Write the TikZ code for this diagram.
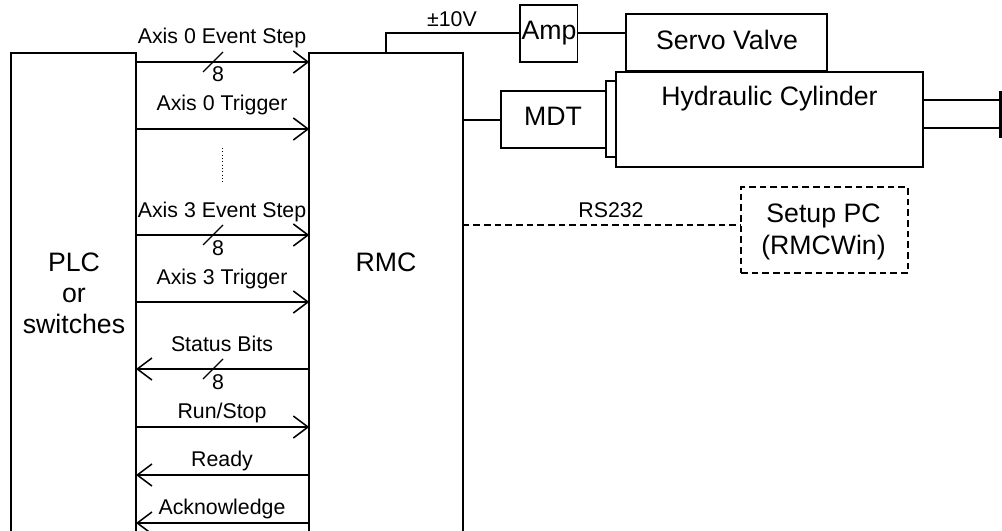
\documentclass[tikz,border=0pt]{standalone}
\usepackage{fontspec}
\setmainfont{Liberation Sans}
\usetikzlibrary{arrows.meta}
\tikzset{
  x=0.75pt,y=-0.75pt,
  wire/.style={line width=1.15pt,black},
  bx/.style 2 args={draw=black,line width=1.15pt,fill=white,inner sep=0pt,outer sep=0pt,minimum width=#1*0.75pt,minimum height=#2*0.75pt},
  sig/.style={wire,-{Straight Barb[length=11pt,width=16.5pt,line width=1.15pt]}},
  slash/.style={line width=1pt},
  big/.style={inner sep=0pt,anchor=base,font=\fontsize{20}{20}\selectfont},
  small/.style={inner sep=0pt,anchor=base,font=\fontsize{16}{16}\selectfont},
  rsdash/.style={dash pattern=on 5pt off 3pt},
}
\newcommand{\sigline}[3]{% name, y, direction (-1 = reversed)
  \coordinate (#1) at (0,#2);
  \ifnum#3=1
    \draw[sig] (plc.east |- #1) -- (rmc.west |- #1);
  \else
    \draw[sig] (rmc.west |- #1) -- (plc.east |- #1);
  \fi}
\newcommand{\busmark}[2]{% name, y
  \coordinate (#1a) at (203,#2+10);
  \coordinate (#1b) at (223,#2-10);
  \draw[slash] (#1a) -- (#1b);
  \node[small] (#1n) at (218,#2+20) {8};}
\begin{document}
\begin{tikzpicture}
\path[use as bounding box,clip] (0,0) rectangle (1002,531);
% main boxes (run past the bottom edge)
\node[bx={125}{527}] (plc) at (73.5,316.5) {};
\node[bx={153.5}{527}] (rmc) at (386,316.5) {};
\node[big] (plct) at (74,271) {PLC};
\node[big] (ort) at (74,302) {or};
\node[big] (swt) at (74,333) {switches};
\node[big] (rmct) at (386,271) {RMC};
% signals
\sigline{s1}{62}{1}
\sigline{s2}{129}{1}
\sigline{s3}{235}{1}
\sigline{s4}{302}{1}
\sigline{s5}{369}{-1}
\sigline{s6}{427}{1}
\sigline{s7}{475}{-1}
\sigline{s8}{523}{-1}
\busmark{m1}{62}
\busmark{m3}{235}
\busmark{m5}{369}
\node[small] (l1) at (222,44) {Axis 0 Event Step};
\node[small] (l2) at (222,111) {Axis 0 Trigger};
\node[small] (l3) at (222,217) {Axis 3 Event Step};
\node[small] (l4) at (222,284) {Axis 3 Trigger};
\node[small] (l5) at (222,351) {Status Bits};
\node[small] (l6) at (222,418) {Run/Stop};
\node[small] (l7) at (222,466) {Ready};
\node[small] (l8) at (222,514) {Acknowledge};
\coordinate (d1) at (222.5,148);
\coordinate (d2) at (222.5,184);
\draw[line width=0.5pt,dotted] (d1) -- (d2);
% right-hand side
\node[bx={57.5}{57}] (amp) at (548.75,33.5) {};
\node[bx={201.5}{57}] (valve) at (726.5,42.5) {};
\node[bx={10}{76}] (flange) at (611,119) {};
\node[bx={105}{57}] (mdt) at (553.5,119.5) {};
\node[bx={307}{95}] (cyl) at (769.5,119.5) {};
\coordinate (rmctap) at (386,53);
\coordinate (corner) at (386,33);
\coordinate (mdtwire) at (0,120);
\draw[wire] (rmctap) -- (corner) -- (amp.west |- corner);
\draw[wire] (amp.east |- corner) -- (valve.west |- corner);
\draw[wire] (rmc.east |- mdtwire) -- (mdt.west |- mdtwire);
\node[small] (volt) at (452,27) {±10V};
\node[big] (ampt) at (549,40) {Amp};
\node[big] (valvet) at (727,49.5) {Servo Valve};
\node[big] (cylt) at (769.5,106) {Hydraulic Cylinder};
\node[big] (mdtt) at (553,125.5) {MDT};
% rod and end plate
\coordinate (rt) at (0,100);
\coordinate (rb) at (0,128);
\node[fill=black,inner sep=0pt,outer sep=0pt,minimum width=2.4pt,minimum height=35.5pt] (plate) at (1000.5,114.5) {};
\draw[wire] (cyl.east |- rt) -- (plate.west |- rt);
\draw[wire] (cyl.east |- rb) -- (plate.west |- rb);
% setup PC
\node[bx={167}{86},rsdash] (pc) at (824.5,230) {};
\coordinate (rs) at (0,225);
\draw[wire,rsdash] (rmc.east |- rs) -- (pc.west |- rs);
\node[small] (rst) at (611,217) {RS232};
\node[big] (pct1) at (823.5,222.5) {Setup PC};
\node[big] (pct2) at (823.5,254) {(RMCWin)};
\end{tikzpicture}
\end{document}
